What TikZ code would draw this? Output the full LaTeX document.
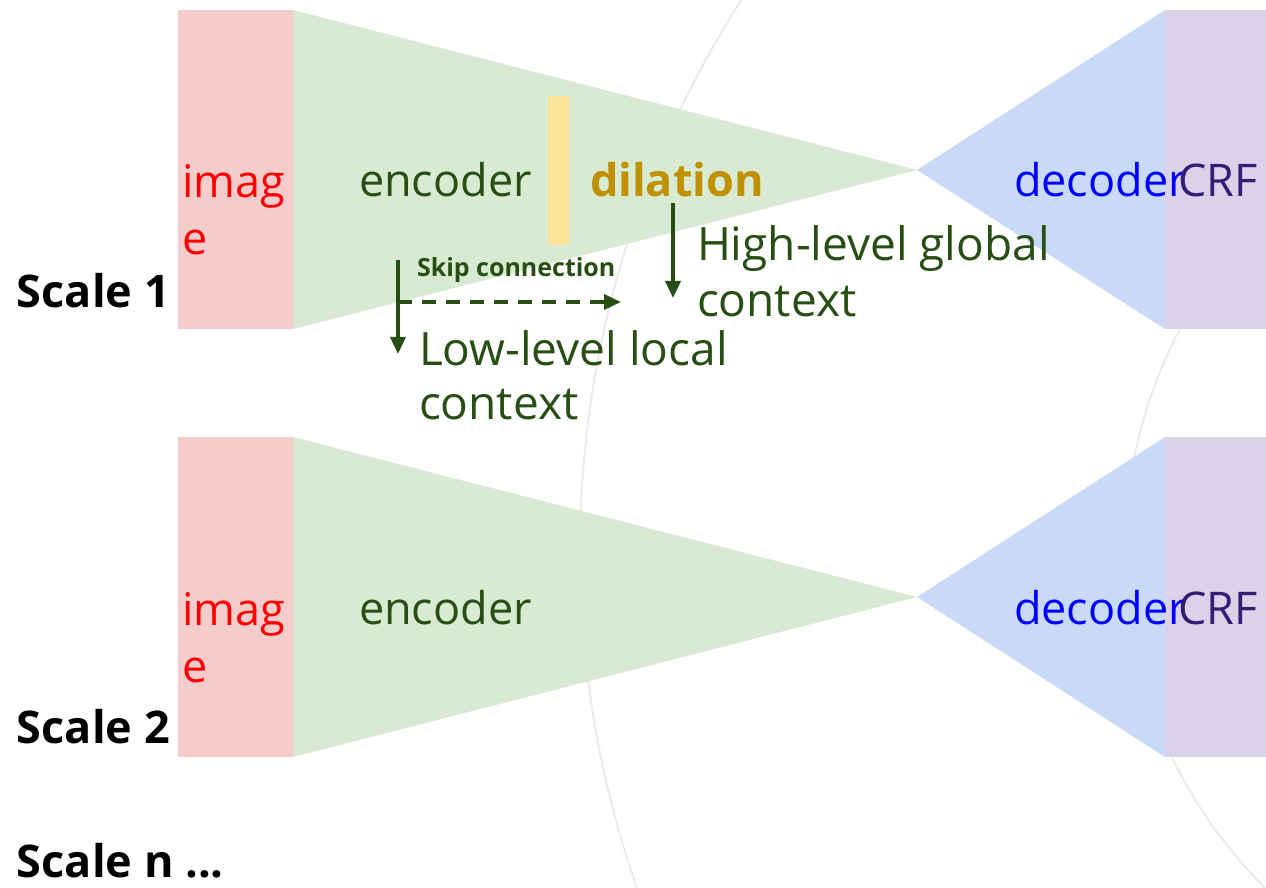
\documentclass[tikz,border=0pt]{standalone}
\usepackage{fontspec}
\setmainfont{Open Sans}
\usetikzlibrary{arrows.meta}

\definecolor{imgfill}{HTML}{F4CCCC}
\definecolor{encfill}{HTML}{D9EAD3}
\definecolor{decfill}{HTML}{C9DAF8}
\definecolor{crffill}{HTML}{D9D2E9}
\definecolor{dilfill}{HTML}{FFE599}
\definecolor{darkgreen}{HTML}{274E13}
\definecolor{dilgold}{HTML}{BF9000}
\definecolor{crfpurple}{HTML}{351C75}
\definecolor{ringgray}{HTML}{EBEBEB}

\tikzset{
  x=0.5pt, y=-0.5pt,
  lbl/.style={anchor=base west, inner sep=0pt, outer sep=0pt,
              font=\fontsize{22.5}{27}\selectfont},
  scalelbl/.style={lbl, font=\fontsize{22.5}{27}\selectfont\bfseries, text=black},
  imgtxt/.style={lbl, text=red},
  enctxt/.style={lbl, text=darkgreen},
  dectxt/.style={lbl, text=blue},
  crftxt/.style={lbl, text=crfpurple},
  diltxt/.style={lbl, font=\fontsize{22.5}{27}\selectfont\bfseries, text=dilgold},
  ctxtxt/.style={lbl, font=\fontsize{23}{27}\selectfont, text=darkgreen},
  skiptxt/.style={lbl, font=\fontsize{12.5}{15}\selectfont\bfseries, text=darkgreen},
  arr/.style={draw=darkgreen, line width=1.8pt,
              -{Triangle[length=8.5pt,width=7.5pt]}},
  dasharr/.style={arr, dash pattern=on 7pt off 5pt},
  ring/.style={draw=ringgray, line width=1pt},
}

\begin{document}
\begin{tikzpicture}
  % canvas
  \fill[white] (0,0) rectangle (1266,888);
  \useasboundingbox (0,0) rectangle (1266,888);

  % faint concentric rings in the background
  \begin{scope}
    \clip (0,0) rectangle (1266,888);
    \draw[ring] (1600,551) circle[radius=510pt];
    \draw[ring] (1600,551) circle[radius=237.5pt];
  \end{scope}

  % ---------- Scale 1 pipeline ----------
  \fill[imgfill] (178,10) rectangle (293,329);
  \fill[encfill] (293,10) -- (917,170) -- (293,329) -- cycle;
  \fill[decfill] (917,170) -- (1165,10) -- (1165,329) -- cycle;
  \fill[crffill] (1165,10) rectangle (1266,329);
  \fill[dilfill] (548,96) rectangle (569,245);

  % ---------- Scale 2 pipeline ----------
  \fill[imgfill] (178,437) rectangle (293,757);
  \fill[encfill] (293,437) -- (917,597) -- (293,757) -- cycle;
  \fill[decfill] (917,597) -- (1165,437) -- (1165,757) -- cycle;
  \fill[crffill] (1165,437) rectangle (1266,757);

  % scale labels
  \node[scalelbl] (scale1) at (17,307) {Scale 1};
  \node[scalelbl] (scale2) at (17,743) {Scale 2};
  \node[scalelbl, text depth=0pt] (scalen) at (17,877) {Scale n ...};

  % scale 1 texts
  \node[imgtxt] (imgA1) at (182,198) {imag};
  \node[imgtxt] (imgA2) at (182,255) {e};
  \node[enctxt] (encA) at (359,197) {encoder};
  \node[diltxt] (dil) at (590,197) {dilation};
  \node[dectxt] (decA) at (1014,197) {decoder};
  \node[crftxt] (crfA) at (1178,197) {CRF};

  % scale 2 texts
  \node[imgtxt] (imgB1) at (182,625) {imag};
  \node[imgtxt] (imgB2) at (182,682) {e};
  \node[enctxt] (encB) at (359,624) {encoder};
  \node[dectxt] (decB) at (1014,624) {decoder};
  \node[crftxt] (crfB) at (1178,624) {CRF};

  % context annotations
  \node[skiptxt] (skip) at (417,277) {Skip connection};
  \node[ctxtxt] (high1) at (697,261) {High-level global};
  \node[ctxtxt] (high2) at (697,317) {context};
  \node[ctxtxt] (low1) at (419,365) {Low-level local};
  \node[ctxtxt] (low2) at (419,420) {context};

  % arrows
  \coordinate (lowTop) at (398,260);
  \coordinate (lowTip) at (398,354);
  \coordinate (skipFork) at (398,302);
  \coordinate (skipEnd) at (621,302);
  \coordinate (highTop) at (673,203);
  \coordinate (highTip) at (673,298);

  \draw[arr] (lowTop) -- (lowTip);
  \draw[dasharr] (skipFork) -- (skipEnd);
  \draw[arr] (highTop) -- (highTip);
\end{tikzpicture}
\end{document}
